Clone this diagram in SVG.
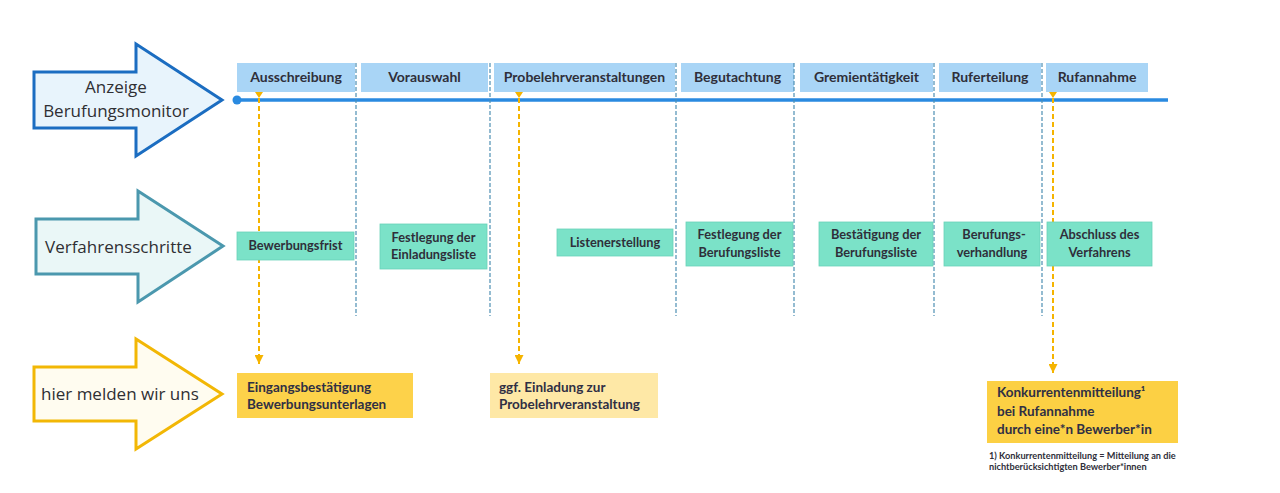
<svg xmlns="http://www.w3.org/2000/svg" width="1280" height="493" viewBox="0 0 1280 493">
<defs>
<style>
.hd{fill:#a9d5f6}
.ht{font-family:Lato,"Liberation Sans",sans-serif;font-weight:bold;font-size:14px;fill:#2f2f3a;text-anchor:middle}
.gb{fill:#7be2c8;stroke:#6ad3b8;stroke-width:0.8}
.gt{font-family:Lato,"Liberation Sans",sans-serif;font-weight:bold;font-size:12.8px;fill:#2f2f3a;text-anchor:middle}
.big{font-family:"Open Sans","Liberation Sans",sans-serif;font-size:17px;fill:#2f2f33}
.yt{font-family:Lato,"Liberation Sans",sans-serif;font-weight:bold;font-size:13.5px;fill:#2f2f44}
.sep{stroke:#4e8fb3;stroke-width:1.2;stroke-dasharray:4 2;fill:none}
.od{stroke:#f5b400;stroke-width:2;stroke-dasharray:5 3;fill:none}
</style>
<marker id="ah" viewBox="0 0 10 10" refX="10" refY="5" markerWidth="10" markerHeight="9" markerUnits="userSpaceOnUse" orient="auto">
<path d="M0,0 L10,5 L0,10 Z" fill="#f5b400"/>
</marker>
</defs>
<rect width="1280" height="493" fill="#ffffff"/>

<g id="arrow-anzeige">
<path d="M34,72 L136,72 L136,44 L222,100 L136,156 L136,128 L34,128 Z" fill="#e8f4fc" stroke="#1b6dc1" stroke-width="3" stroke-linejoin="miter"/>
<text class="big" x="116" y="93" text-anchor="middle">Anzeige</text>
<text class="big" x="116" y="117" text-anchor="middle">Berufungsmonitor</text>
</g>
<g id="arrow-verfahren">
<path d="M36,219 L138,219 L138,191 L223,246 L138,302 L138,274 L36,274 Z" fill="#eaf7f7" stroke="#4b98ae" stroke-width="3"/>
<text class="big" x="45" y="253">Verfahrensschritte</text>
</g>
<g id="arrow-melden">
<path d="M34,367 L136,367 L136,339 L222,394 L136,449 L136,421 L34,421 Z" fill="#fffcf0" stroke="#f2b705" stroke-width="3"/>
<text class="big" x="41" y="400">hier melden wir uns</text>
</g>

<g id="headers">
<g id="h-ausschreibung"><rect class="hd" x="237" y="63" width="118" height="29"/><text class="ht" x="296" y="82">Ausschreibung</text></g>
<g id="h-vorauswahl"><rect class="hd" x="361" y="63" width="127" height="29"/><text class="ht" x="424.5" y="82">Vorauswahl</text></g>
<g id="h-probelehr"><rect class="hd" x="494" y="63" width="181" height="29"/><text class="ht" x="584.5" y="82">Probelehrveranstaltungen</text></g>
<g id="h-begutachtung"><rect class="hd" x="681" y="63" width="113" height="29"/><text class="ht" x="737.5" y="82">Begutachtung</text></g>
<g id="h-gremien"><rect class="hd" x="800" y="63" width="133" height="29"/><text class="ht" x="866.5" y="82">Gremientätigkeit</text></g>
<g id="h-ruferteilung"><rect class="hd" x="939" y="63" width="102" height="29"/><text class="ht" x="990" y="82">Ruferteilung</text></g>
<g id="h-rufannahme"><rect class="hd" x="1046" y="63" width="102" height="29"/><text class="ht" x="1097" y="82">Rufannahme</text></g>
</g>

<g id="connectors">
<line x1="237" y1="100" x2="1168" y2="100" stroke="#2a8ae0" stroke-width="3.5"/>
<circle cx="237" cy="100" r="4.5" fill="#2a8ae0"/>
<line class="sep" x1="356" y1="63" x2="356" y2="316"/>
<line class="sep" x1="490" y1="63" x2="490" y2="316"/>
<line class="sep" x1="676" y1="63" x2="676" y2="316"/>
<line class="sep" x1="794" y1="63" x2="794" y2="316"/>
<line class="sep" x1="934" y1="63" x2="934" y2="316"/>
<line class="sep" x1="1042" y1="63" x2="1042" y2="316"/>
<path d="M255,92 L263,92 L259,98 Z" fill="#f5b400"/>
<path d="M515,92 L523,92 L519,98 Z" fill="#f5b400"/>
<path d="M1049,92 L1057,92 L1053,98 Z" fill="#f5b400"/>
<line class="od" x1="259" y1="98" x2="259" y2="364" marker-end="url(#ah)"/>
<line class="od" x1="519" y1="98" x2="519" y2="364" marker-end="url(#ah)"/>
<line class="od" x1="1053" y1="98" x2="1053" y2="373" marker-end="url(#ah)"/>
</g>

<g id="steps">
<g id="s-bewerbungsfrist"><rect class="gb" x="237" y="232" width="117" height="28"/><text class="gt" x="295.5" y="250">Bewerbungsfrist</text></g>
<g id="s-einladungsliste"><rect class="gb" x="380" y="224" width="107" height="45"/><text class="gt" x="433.5" y="242">Festlegung der</text><text class="gt" x="433.5" y="259">Einladungsliste</text></g>
<g id="s-listenerstellung"><rect class="gb" x="557" y="229" width="116" height="27"/><text class="gt" x="615" y="247">Listenerstellung</text></g>
<g id="s-berufungsliste"><rect class="gb" x="686" y="222" width="107" height="44"/><text class="gt" x="739.5" y="239">Festlegung der</text><text class="gt" x="739.5" y="257">Berufungsliste</text></g>
<g id="s-bestaetigung"><rect class="gb" x="819" y="222" width="114" height="44"/><text class="gt" x="876" y="239">Bestätigung der</text><text class="gt" x="876" y="257">Berufungsliste</text></g>
<g id="s-verhandlung"><rect class="gb" x="944" y="222" width="96" height="44"/><text class="gt" x="994" y="239">Berufungs-</text><text class="gt" x="992" y="257">verhandlung</text></g>
<g id="s-abschluss"><rect class="gb" x="1047" y="222" width="105" height="44"/><text class="gt" x="1099.5" y="239">Abschluss des</text><text class="gt" x="1099.5" y="257">Verfahrens</text></g>
</g>

<g id="messages">
<g id="m-eingang"><rect x="237" y="373" width="176" height="45" fill="#fdd24a"/><text class="yt" x="247" y="392">Eingangsbestätigung</text><text class="yt" x="247" y="409">Bewerbungsunterlagen</text></g>
<g id="m-einladung"><rect x="490" y="373" width="168" height="45" fill="#fee8a6"/><text class="yt" x="499" y="392">ggf. Einladung zur</text><text class="yt" x="499" y="409">Probelehrveranstaltung</text></g>
<g id="m-konkurrent"><rect x="987" y="381" width="191" height="62" fill="#fcd044"/>
<text class="yt" x="997" y="397" font-size="14.5">Konkurrentenmitteilung¹</text>
<text class="yt" x="997" y="416" font-size="14.5">bei Rufannahme</text>
<text class="yt" x="997" y="434" font-size="14.5">durch eine*n Bewerber*in</text>
</g>
<g id="footnote">
<text x="989" y="459" font-family="Lato,'Liberation Sans',sans-serif" font-weight="bold" font-size="9.2" fill="#2f2f3a">1) Konkurrentenmitteilung = Mitteilung an die</text>
<text x="989" y="470" font-family="Lato,'Liberation Sans',sans-serif" font-weight="bold" font-size="9.2" fill="#2f2f3a">nichtberücksichtigten Bewerber*innen</text>
</g>
</g>
</svg>
